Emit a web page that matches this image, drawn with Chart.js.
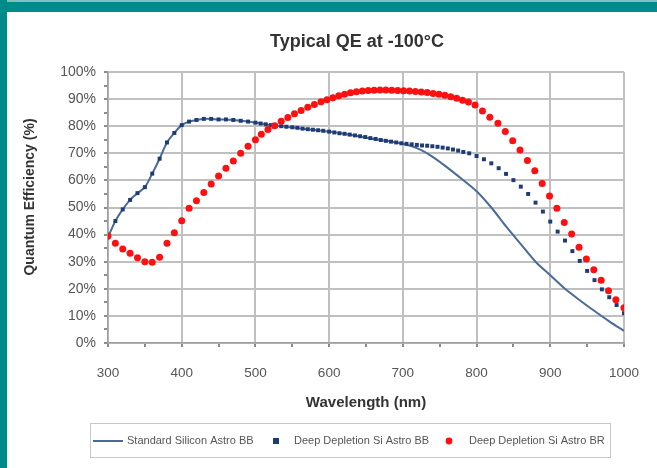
<!DOCTYPE html>
<html>
<head>
<meta charset="utf-8">
<script src="https://cdn.jsdelivr.net/npm/chart.js@4.4.1/dist/chart.umd.min.js"></script>
<style>
  html, body { margin: 0; padding: 0; background: #fff; }
  #area { width: 657px; height: 468px; }
</style>
</head>
<body>
<div id="area"><canvas id="qeCanvas" width="657" height="468"></canvas></div>
<script>
const chartTitle = "Typical QE at -100°C";
const xTitle = "Wavelength (nm)";
const yTitle = "Quantum Efficiency (%)";
const seriesNames = ["Standard Silicon Astro BB", "Deep Depletion Si Astro BB", "Deep Depletion Si Astro BR"];

// Standard Silicon Astro BB (solid line)
const stdWavelength = [300,310,320,330,340,350,360,370,380,390,400,410,420,430,440,450,460,470,480,490,500,
  520,540,560,580,600,620,640,660,680,700,720,740,760,780,800,820,840,860,880,900,920,940,960,980,1000];
const stdQE = [39,45,49.3,52.8,55.3,57.5,62.5,68,74,77.5,80.4,81.7,82.3,82.7,82.7,82.5,82.5,82.3,82,81.7,81.3,
  80.4,79.9,79.2,78.6,78,77.2,76.3,75.3,74.5,73.5,71.8,68.8,64.8,60.5,56,50,43,36.5,30,25,20,15.8,11.8,8,4.5];

// Deep Depletion Si Astro BB (blue markers)
const bbWavelength = [300,310,320,330,340,350,360,370,380,390,400,410,420,430,440,450,460,470,480,490,500,
  507,514,521,528,535,542,550,557,564,571,578,585,592,
  600,607,614,621,628,635,642,649,656,663,670,677,684,691,698,
  705,712,719,726,733,740,747,754,761,768,775,782,790,
  800,810,820,830,840,850,860,870,880,890,900,910,920,930,940,950,960,970,980,990,1000];
const bbQE = [39,45,49.3,52.8,55.3,57.5,62.5,68,74,77.5,80.4,81.7,82.3,82.7,82.7,82.5,82.5,82.3,82,81.7,81.3,
  81.0,80.7,80.4,80.2,80.0,79.8,79.6,79.4,79.1,78.9,78.7,78.5,78.3,
  78.0,77.7,77.4,77.2,76.9,76.6,76.3,76.0,75.6,75.3,74.9,74.6,74.3,74.0,73.7,
  73.5,73.3,73.1,72.9,72.8,72.6,72.4,72.1,71.8,71.4,71.0,70.5,70.0,
  69.0,67.8,66.3,64.5,62.4,60.1,57.7,55.0,51.8,48.5,44.8,41.1,37.8,33.9,30.3,26.6,23.2,19.8,16.9,14.0,11.0];

// Deep Depletion Si Astro BR (red markers)
const brWavelength = [300,310,320,330,340,350,360,370,380,390,400,410,420,430,440,450,460,470,480,490,500,
  508,517,526,535,544,553,562,571,580,589,597,605,613,621,629,637,645,653,661,669,677,685,693,701,709,717,725,733,741,749,757,765,773,781,789,
  798,808,818,829,839,849,859,869,879,889,899,909,919,929,939,949,959,969,979,989,1000];
const brQE = [39.5,36.8,34.7,33.1,31.5,30.0,29.8,31.6,36.8,40.7,45.1,49.7,52.5,55.5,58.7,61.6,64.5,67.2,70.0,72.6,75.0,
  77.0,78.8,80.2,81.8,83.2,84.6,85.8,87.0,88.0,89.0,89.8,90.5,91.2,91.8,92.3,92.7,93.0,93.2,93.3,93.4,93.4,93.3,93.2,93.1,93.0,92.8,92.6,92.4,92.1,91.8,91.4,90.9,90.3,89.6,88.9,
  87.8,85.6,83.3,81.1,78.0,74.6,71.2,67.3,63.6,58.9,54.2,49.7,44.5,40.2,35.3,31.0,27.0,23.2,19.3,16.0,13.0];

const fontFamily = "'Liberation Sans', Arial, sans-serif";

function toPoints(xs, ys) {
    return xs.map((x, i) => ({ x: x, y: ys[i] }));
}

// teal frame, chart title, y title and the boxed legend
const framePlugin = {
    id: "frame",
    beforeDraw(chart) {
        const c = chart.ctx;
        c.save();
        c.fillStyle = "#ffffff";
        c.fillRect(0, 0, chart.width, chart.height);
        c.fillStyle = "#008b8b";
        c.fillRect(0, 0, chart.width, 12);
        c.fillRect(0, 0, 7, chart.height);
        c.fillStyle = "#80c0c0";
        c.fillRect(7, 0, chart.width, 2);
        c.restore();
    },
    afterDraw(chart) {
        const c = chart.ctx;
        c.save();

        c.fillStyle = "#333";
        c.font = "bold 18px " + fontFamily;
        c.textAlign = "center";
        c.textBaseline = "middle";
        c.fillText(chartTitle, 357, 42);

        c.save();
        c.translate(30, 197);
        c.rotate(-Math.PI / 2);
        c.font = "bold 14px " + fontFamily;
        c.fillText(yTitle, 0, 0);
        c.restore();

        // legend
        c.strokeStyle = "#c8c8c8";
        c.lineWidth = 1;
        c.strokeRect(90.5, 423.5, 520, 34);
        c.beginPath();
        c.rect(91, 424, 519, 33);
        c.clip();

        const ds = chart.data.datasets;
        const ly = 441;
        c.font = "11px " + fontFamily;
        c.textAlign = "left";

        c.strokeStyle = ds[0].borderColor;
        c.lineWidth = 2;
        c.beginPath();
        c.moveTo(93, ly);
        c.lineTo(123, ly);
        c.stroke();
        c.fillStyle = "#555";
        c.fillText(ds[0].label, 127, ly);

        c.fillStyle = ds[1].backgroundColor;
        c.fillRect(273, ly - 3, 6, 6);
        c.fillStyle = "#555";
        c.fillText(ds[1].label, 294, ly);

        c.fillStyle = ds[2].backgroundColor;
        c.beginPath();
        c.arc(449, ly, 3.4, 0, Math.PI * 2);
        c.fill();
        c.fillStyle = "#555";
        c.fillText(ds[2].label, 469, ly);

        c.restore();
    }
};

const ctx = document.getElementById("qeCanvas").getContext("2d");

const chart = new Chart(ctx, {
    type: "scatter",
    data: {
        datasets: [
            {
                label: seriesNames[0],
                data: toPoints(stdWavelength, stdQE),
                showLine: true,
                borderColor: "#4a6b98",
                backgroundColor: "#4a6b98",
                borderWidth: 2,
                pointRadius: 0,
                tension: 0.3,
                order: 3
            },
            {
                label: seriesNames[1],
                data: toPoints(bbWavelength, bbQE),
                pointStyle: "rect",
                pointRadius: 2.8,
                borderWidth: 0,
                backgroundColor: "#1f3b73",
                borderColor: "#1f3b73",
                order: 2
            },
            {
                label: seriesNames[2],
                data: toPoints(brWavelength, brQE),
                pointStyle: "circle",
                pointRadius: 3.5,
                borderWidth: 0,
                backgroundColor: "#ff1010",
                borderColor: "#ff1010",
                order: 1
            }
        ]
    },
    options: {
        responsive: false,
        animation: false,
        layout: { padding: { left: 8, right: 27, top: 72, bottom: 52 } },
        plugins: {
            legend: { display: false },
            tooltip: { enabled: false },
            title: { display: false }
        },
        scales: {
            x: {
                type: "linear",
                min: 300,
                max: 1000,
                afterFit: s => { s.height = 73; },
                ticks: {
                    stepSize: 50,
                    autoSkip: false,
                    maxRotation: 0,
                    padding: 18,
                    color: "#555",
                    font: { family: fontFamily, size: 13.5 },
                    callback: v => v % 100 === 0 ? v : ""
                },
                grid: {
                    color: c => c.tick && c.tick.value % 100 === 0 ? "#c0c0c0" : "rgba(0,0,0,0)",
                    lineWidth: 2,
                    tickColor: "#8c8c8c",
                    tickLength: 4
                },
                border: { color: "#a0a0a0", width: 1.5 },
                title: {
                    display: true,
                    text: xTitle,
                    color: "#333",
                    font: { family: fontFamily, size: 15, weight: "bold" },
                    padding: { top: 0, bottom: 4 }
                }
            },
            y: {
                min: 0,
                max: 100,
                afterFit: s => { s.width = 100; },
                ticks: {
                    stepSize: 5,
                    autoSkip: false,
                    padding: 8,
                    color: "#555",
                    font: { family: fontFamily, size: 14 },
                    callback: v => v % 10 === 0 ? v + "%" : ""
                },
                grid: {
                    color: c => c.tick && c.tick.value % 10 === 0 ? "#c0c0c0" : "rgba(0,0,0,0)",
                    lineWidth: 2,
                    tickColor: "#8c8c8c",
                    tickLength: 4
                },
                border: { color: "#a0a0a0", width: 1.5 }
            }
        }
    },
    plugins: [framePlugin]
});
</script>
</body>
</html>
